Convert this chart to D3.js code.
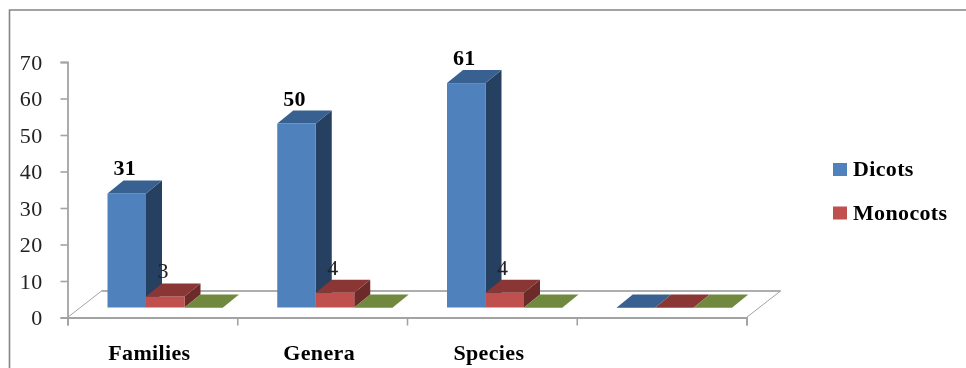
<!DOCTYPE html>
<html>
<head>
<meta charset="utf-8">
<script src="https://cdn.jsdelivr.net/npm/d3@7"></script>
<style>
  html, body { margin: 0; padding: 0; background: #fff; overflow: hidden; }
  svg { display: block; }
  /* the source is a soft, upscaled screenshot */
  svg > g.plot { filter: blur(0.45px); }
  svg text { letter-spacing: 0.35px; }
</style>
</head>
<body>
<div id="chart"></div>
<script>
const categories = ['Families', 'Genera', 'Species', ''];
const seriesNames = ['Dicots', 'Monocots', 'Series3'];
const dicots = [31, 50, 61, 0];
const monocots = [3, 4, 4, 0];
const series3 = [0, 0, 0, 0];
const yTicks = [0, 10, 20, 30, 40, 50, 60, 70];
const legendNames = ['Dicots', 'Monocots'];

const W = 966, H = 368;
const SERIF = '"Liberation Serif", "Times New Roman", serif';
const GRID = '#a3a3a3';

// front, top and side shade per series
const shades = [
  { front: '#4f81bd', top: '#386090', side: '#254061', edge: '#8fb0d8' },
  { front: '#c0504d', top: '#8a3634', side: '#6c2a28', edge: '#dc9a98' },
  { front: '#9bbb59', top: '#71893f', side: '#5a6e32', edge: '#b5d07c' }
];

const root = d3.select('#chart').append('svg').attr('width', W).attr('height', H);
const svg = root.append('g').attr('class', 'plot');

// outer frame, runs off the bottom and right of the crop
svg.append('path').attr('d', 'M9.5,368V10H966').attr('fill', 'none')
  .attr('stroke', '#858585').attr('stroke-width', 1.6);

const x = d3.scaleBand().domain(d3.range(categories.length)).range([67.5, 746.5]);
const xTick = d3.scaleLinear().domain([0, 4]).range([67.5, 746.5]);
const y = d3.scaleLinear().domain([0, 70]).range([317.5, 62]);
// bars stand on the floor, set back from the axis plane
const yBar = d3.scaleLinear().domain([0, 70]).range([307.5, 50]);
const inner = d3.scaleBand().domain(d3.range(3)).range([40, 155.5]);
const dx = 16, dy = -13;

// floor
svg.append('path').attr('d', `M${xTick(0)},${y(0)}L${xTick(0) + 34},291H${xTick(4) + 34}L${xTick(4)},${y(0)}`)
  .attr('fill', 'none').attr('stroke', GRID).attr('stroke-width', 1);
svg.append('path').attr('d', `M${xTick(0) + 34},291H${xTick(4) + 34}`)
  .attr('stroke', GRID).attr('stroke-width', 1.6);

const axisY = svg.append('g').attr('transform', 'translate(67.5,0)')
  .call(d3.axisLeft(y).tickValues(yTicks).tickSize(7).tickPadding(18));
const axisX = svg.append('g').attr('transform', `translate(0,${y(0)})`)
  .call(d3.axisBottom(xTick).ticks(4).tickSize(8).tickFormat(''));
[axisY, axisX].forEach(g => {
  g.select('.domain').attr('stroke', GRID).attr('stroke-width', 1.8);
  g.selectAll('.tick line').attr('stroke', GRID).attr('stroke-width', 1.6);
});
axisY.selectAll('.tick text').attr('fill', '#222').attr('font-size', '22px').attr('font-family', SERIF).attr('dy', '0.34em');

// bars
const rows = [dicots, monocots, series3];
categories.forEach((cat, i) => {
  const g = svg.append('g').attr('transform', `translate(${x(i)},0)`);
  rows.forEach((vals, s) => {
    const x0 = inner(s), x1 = x0 + inner.bandwidth();
    const yTop = yBar(vals[i]), yBase = yBar(0);
    const c = shades[s];
    if (vals[i] > 0) {
      g.append('path').attr('fill', c.side)
        .attr('d', `M${x1},${yTop}l${dx},${dy}V${yBase + dy}L${x1},${yBase}Z`);
      g.append('rect').attr('x', x0).attr('y', yTop).attr('width', x1 - x0).attr('height', yBase - yTop)
        .attr('fill', c.front);
    } else {
      g.append('line').attr('x1', x0).attr('x2', x1).attr('y1', yBase).attr('y2', yBase)
        .attr('stroke', c.edge).attr('stroke-width', 1.2);
    }
    g.append('path').attr('fill', c.top)
      .attr('d', `M${x0},${yTop}l${dx},${dy}H${x1 + dx}L${x1},${yTop}Z`);
  });
});

// value labels go after all bars, they sit over the dark side faces
categories.forEach((cat, i) => {
  [dicots, monocots].forEach((vals, s) => {
    if (!vals[i]) return;
    svg.append('text')
      .attr('x', x(i) + inner(s) + inner.bandwidth() / 2 - 2)
      .attr('y', yBar(vals[i]) + dy - 5)
      .attr('text-anchor', 'middle').attr('font-family', SERIF).attr('font-size', '22px')
      .attr('font-weight', s === 0 ? 700 : 400).attr('fill', s === 0 ? '#000' : '#222')
      .text(vals[i]);
  });
});

// category labels
svg.selectAll('.cat').data(categories.filter(d => d)).join('text').attr('class', 'cat')
  .attr('x', (d, i) => x(i) + x.bandwidth() / 2 - 3).attr('y', 360)
  .attr('text-anchor', 'middle').attr('font-family', SERIF).attr('font-size', '22px')
  .attr('font-weight', 700).attr('fill', '#000').text(d => d);

// legend, the third series has no entry
const legend = svg.selectAll('.leg').data(legendNames).join('g').attr('class', 'leg')
  .attr('transform', (d, i) => `translate(833,${163 + i * 43.5})`);
legend.append('rect').attr('width', 14).attr('height', 13)
  .attr('fill', (d, i) => shades[i].front);
legend.append('text').attr('x', 20).attr('y', 13).attr('font-family', SERIF)
  .attr('font-size', '22px').attr('font-weight', 700).attr('fill', '#000').text(d => d);
</script>
</body>
</html>
